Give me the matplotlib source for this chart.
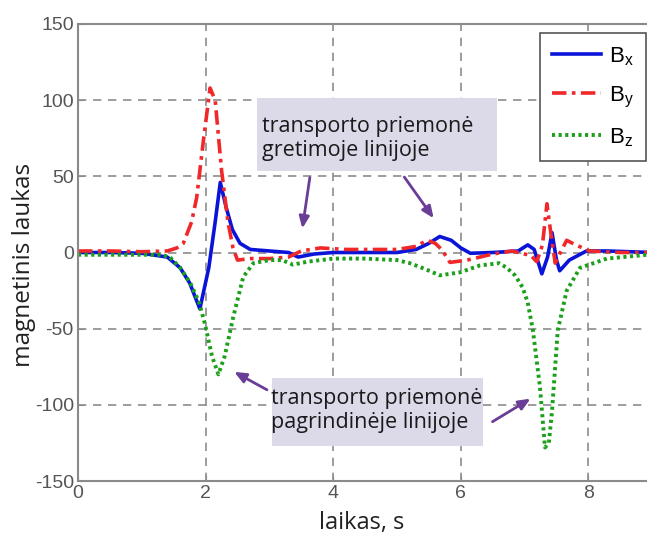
import matplotlib
matplotlib.use("Agg")
from matplotlib import pyplot as plt
from matplotlib.patches import Rectangle

plt.rcParams["axes.unicode_minus"] = False

# time stamps (s) and field components
t_bx = [0, 0.5, 1.0, 1.4, 1.6, 1.75, 1.91, 2.05, 2.15, 2.23, 2.32, 2.42, 2.54, 2.7, 3.0,
        3.3, 3.45, 3.7, 4.0, 4.5, 5.0, 5.3, 5.5, 5.67, 5.85, 6.0, 6.15, 6.5, 6.9, 7.05,
        7.15, 7.27, 7.36, 7.43, 7.5, 7.55, 7.7, 7.97, 8.3, 9.0, 10]
bx = [0, 0, -0.5, -3, -10, -20, -37, -10, 20, 46, 30, 15, 6, 2, 1,
      0, -3, -1, 0, 0, 0, 2, 6, 10.5, 8, 3, -0.5, 0, 1, 5,
      2, -14, -3, 13, -5, -12, -5, 1, 1, 0, 0]

t_by = [0, 0.5, 1.0, 1.4, 1.55, 1.65, 1.78, 1.86, 1.97, 2.07, 2.15, 2.25, 2.35, 2.43, 2.5,
        2.7, 3.0, 3.3, 3.5, 3.8, 4.2, 4.7, 5.0, 5.3, 5.47, 5.6, 5.7, 5.83, 6.1, 6.5,
        6.8, 7.1, 7.19, 7.28, 7.35, 7.42, 7.48, 7.56, 7.66, 7.8, 8.02, 8.5, 9.0, 10]
by = [1, 1, 0.5, 1, 3, 6, 20, 36, 75, 108, 100, 54, 20, 3, -5,
      -4, -4, -3, 1, 3, 2, 2, 2, 4, 8, 6, 2, -6.5, -5, -1,
      1, -2, -6, 5, 32, 10, -7, 0, 8, 5, 1, 0, 0, 0]

t_bz = [0, 0.5, 1.0, 1.3, 1.44, 1.6, 1.76, 1.9, 1.99, 2.1, 2.2, 2.3, 2.43, 2.59, 2.75,
        3.0, 3.2, 3.37, 3.6, 4.0, 4.5, 5.0, 5.2, 5.45, 5.67, 5.99, 6.3, 6.6, 6.72, 6.85,
        6.97, 7.05, 7.13, 7.24, 7.32, 7.38, 7.43, 7.52, 7.66, 7.87, 8.29, 8.92, 10]
bz = [-1.5, -1.5, -1.5, -1.5, -3, -10, -20, -33, -47, -68, -80, -68, -43, -16, -7,
      -5, -5, -8, -6, -4, -4, -5, -7, -11, -15, -13, -8.5, -7, -10, -15,
      -23, -33, -51, -88, -128, -125, -104, -51, -25, -10, -4, -1.5, -1]

labels = ["B$_\\mathregular{x}$", "B$_\\mathregular{y}$", "B$_\\mathregular{z}$"]
x_ticks = [0, 2, 4, 6, 8]
y_ticks = [-150, -100, -50, 0, 50, 100, 150]
note_top = "transporto priemonė\ngretimoje linijoje"
note_bottom = "transporto priemonė\npagrindinėje linijoje"

fig = plt.figure(figsize=(6.47, 5.35), dpi=100)
ax = fig.add_axes([78 / 647, 54 / 535, 638 / 647, 457 / 535])

ax.plot(t_bx, bx, color="#0a14d8", lw=2.6, label=labels[0])
ax.plot(t_by, by, color="#f0282a", lw=2.6, ls=(0, (4, 1.5, 1, 1.5)), label=labels[1])
ax.plot(t_bz, bz, color="#1aa01a", lw=2.8, ls=(0, (0.8, 0.9)), label=labels[2])

ax.set_xlim(0, 10)
ax.set_ylim(-150, 150)
ax.set_xticks(x_ticks)
ax.set_yticks(y_ticks)
ax.grid(True, color="#8c8c8c", ls=(0, (5, 4)), lw=1.2)
for s in ax.spines.values():
    s.set_color("#8a8a8a")
    s.set_linewidth(1.5)
ax.tick_params(direction="in", length=4, color="#8a8a8a", labelsize=14,
               labelcolor="#555555", pad=3)
for lab in ax.get_xticklabels() + ax.get_yticklabels():
    lab.set_family("Liberation Sans")

ax.set_xlabel("laikas, s", fontsize=17, color="#222222", family="Open Sans")
ax.set_ylabel("magnetinis laukas", fontsize=17.5, color="#222222", family="Open Sans")
ax.xaxis.set_label_coords((362 - 78) / 638, -30 / 457)
ax.yaxis.set_label_coords(-42 / 638, (481 - 265) / 457)

# shaded note boxes with their arrows
ax.add_patch(Rectangle((2.80, 53.8), 3.77, 47.3, facecolor="#dcd9e9", edgecolor="none", zorder=3))
ax.add_patch(Rectangle((3.04, -126.7), 3.31, 44.0, facecolor="#dcd9e9", edgecolor="none", zorder=3))
ax.text(2.88, 63.5, note_top, fontsize=15.5, va="baseline", ha="left", linespacing=1.2,
        color="#1a1a1a", family="Open Sans", zorder=4)
ax.text(3.02, -115.5, note_bottom, fontsize=15.5, va="baseline", ha="left", linespacing=1.2,
        color="#1a1a1a", family="Open Sans", zorder=4)

arrow = dict(arrowstyle="-|>,head_length=0.7,head_width=0.3", color="#6a3d96", lw=2)
ax.annotate("", xy=(3.51, 14), xytext=(3.64, 51), arrowprops=arrow)
ax.annotate("", xy=(5.6, 21), xytext=(5.09, 51), arrowprops=arrow)
ax.annotate("", xy=(2.41, -77.5), xytext=(3.0, -91), arrowprops=arrow)
ax.annotate("", xy=(7.13, -95), xytext=(6.46, -112), arrowprops=arrow)

leg = ax.legend(loc="upper right", bbox_to_anchor=(646 / 647, 502 / 535),
                bbox_transform=fig.transFigure, borderaxespad=0, handlelength=2.2,
                fancybox=False, framealpha=1, edgecolor="#555555", borderpad=0.55,
                labelspacing=0.75, handletextpad=0.35,
                prop={"family": "Liberation Sans", "size": 16})
leg.get_frame().set_linewidth(1.2)

fig.savefig("out.png", dpi=100)
